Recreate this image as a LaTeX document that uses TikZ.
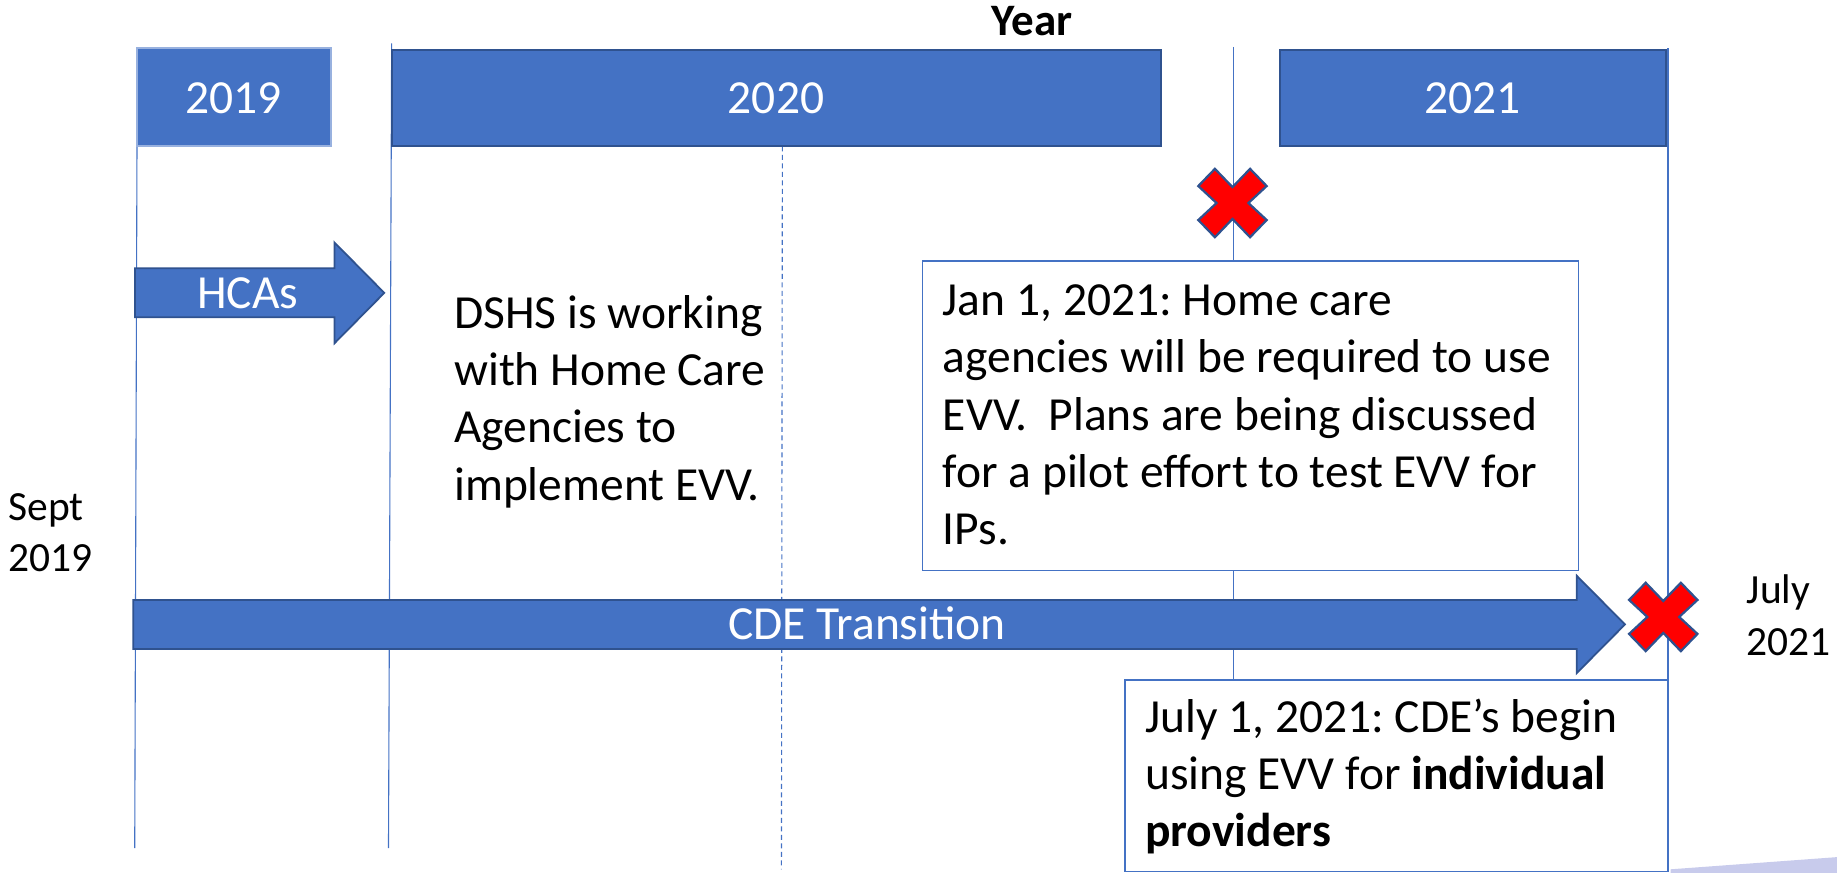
\documentclass[tikz,border=0pt]{standalone}
\usepackage{fontspec}
\setmainfont{Carlito}
\usepackage{xcolor}
\usepackage{tikz}
\definecolor{slideblue}{RGB}{68,114,196}
\definecolor{slideedge}{RGB}{47,82,143}
\definecolor{crossred}{RGB}{255,0,0}
\definecolor{shadelav}{RGB}{200,203,236}
\frenchspacing

\begin{document}
\begin{tikzpicture}[x=1.1716pt,y=1.1716pt,yscale=-1,xscale=1,
    yearbox/.style={draw=slideedge,fill=slideblue,line width=1.8pt},
    blockarrow/.style={draw=slideedge,fill=slideblue,line width=1.8pt,line join=miter},
    crossmark/.style={draw=slideedge,fill=crossred,line width=2.2pt,line join=miter},
    notebox/.style={draw=slideblue,fill=white,line width=1.3pt},
    gridline/.style={draw=slideblue,line width=1.1pt},
    bodytext/.style={inner sep=0pt,align=left,font=\fontsize{47.5}{57.3}\selectfont},
    sidetext/.style={inner sep=0pt,align=left,font=\fontsize{41.5}{51.3}\selectfont},
    bartext/.style={inner sep=0pt,text=white,font=\fontsize{47.5}{57.3}\selectfont}]
        \useasboundingbox (0,0) rectangle (1568,745);
        \clip (0,0) rectangle (1568,745);

        %Straight Lines
        \draw[gridline] (117.2,41) -- (115,724);
        %Straight Lines
        \draw[gridline] (334.3,37) -- (331.6,724);
        %Straight Lines
        \draw[gridline,dash pattern=on 5pt off 3.5pt] (667.8,125) -- (667,742);
        %Straight Lines
        \draw[gridline] (1052.7,40) -- (1052.7,580.4);
        %Straight Lines
        \draw[gridline] (1423.7,41) -- (1423.7,580.4);

        %Shape: Rectangle
        \draw[yearbox,draw=slideblue!55!white] (117.2,41) rectangle (282.5,124.6);
        %Shape: Rectangle
        \draw[yearbox] (334.5,42.7) rectangle (991,124.6);
        %Shape: Rectangle
        \draw[yearbox] (1092.5,42.7) rectangle (1421.7,124.6);

        \node[bartext,anchor=base] (yr2019) at (199.2,96.7) {2019};
        \node[bartext,anchor=base] (yr2020) at (662.4,96.7) {2020};
        \node[bartext,anchor=base] (yr2021) at (1257,96.7) {2021};
        \node[inner sep=0pt,anchor=base,font=\fontsize{45}{54}\selectfont\bfseries] (yearlbl) at (881,29.9) {Year};

        %Shape: Right Arrow
        \draw[blockarrow] (115.2,229) -- (285.5,229) -- (285.5,207) -- (328,250) -- (285.5,293) -- (285.5,270.8) -- (115.2,270.8) -- cycle;
        \node[bartext,anchor=base] (hcas) at (211.4,263) {HCAs};

        %Shape: Right Arrow
        \draw[blockarrow] (113.8,512.1) -- (1345.8,512.1) -- (1345.8,491.4) -- (1387,533) -- (1345.8,574.6) -- (1345.8,554) -- (113.8,554) -- cycle;
        \node[bartext,anchor=base] (cde) at (740,545.7) {CDE Transition};

        %base of a block = base of its last line
        \node[bodytext,anchor=base west] (dshs) at (387.5,426.8) {DSHS is working\\with Home Care\\Agencies to\\implement EVV.};

        %Shape: Rectangle
        \draw[notebox] (787.5,222.8) rectangle (1347.5,487);
        \node[bodytext,anchor=base west] (jannote) at (804.6,465) {Jan 1, 2021: Home care\\agencies will be required to use\\EVV.\ \ Plans are being discussed\\for a pilot effort to test EVV for\\IPs.};

        %Shape: Rectangle
        \draw[notebox] (960.2,580.4) rectangle (1423.7,744);
        \node[bodytext,anchor=base west] (julynote) at (977.3,722.7) {July 1, 2021: CDE’s begin\\using EVV for \textbf{individual}\\\textbf{providers}};

        \node[sidetext,anchor=base west] (sept) at (7.1,488) {Sept\\2019};
        \node[sidetext,anchor=base west] (julyend) at (1490.8,559.1) {July\\2021};

        %Shape: Cross
        \draw[crossmark,shift={(1052,173.3)}] (-15,-29.2) -- (0,-13.6) -- (15,-29.2) -- (29.2,-14.5) -- (13.6,0) -- (29.2,14.5) -- (15,29.2) -- (0,13.6) -- (-15,29.2) -- (-29.2,14.5) -- (-13.6,0) -- (-29.2,-14.5) -- cycle;
        %Shape: Cross
        \draw[crossmark,shift={(1419.7,526.6)}] (-15,-29.2) -- (0,-13.6) -- (15,-29.2) -- (29.2,-14.5) -- (13.6,0) -- (29.2,14.5) -- (15,29.2) -- (0,13.6) -- (-15,29.2) -- (-29.2,14.5) -- (-13.6,0) -- (-29.2,-14.5) -- cycle;

        %Shape: Polygon
        \fill[shadelav] (1426,742) -- (1568,731.6) -- (1568,745) -- (1426,745) -- cycle;
\end{tikzpicture}
\end{document}
